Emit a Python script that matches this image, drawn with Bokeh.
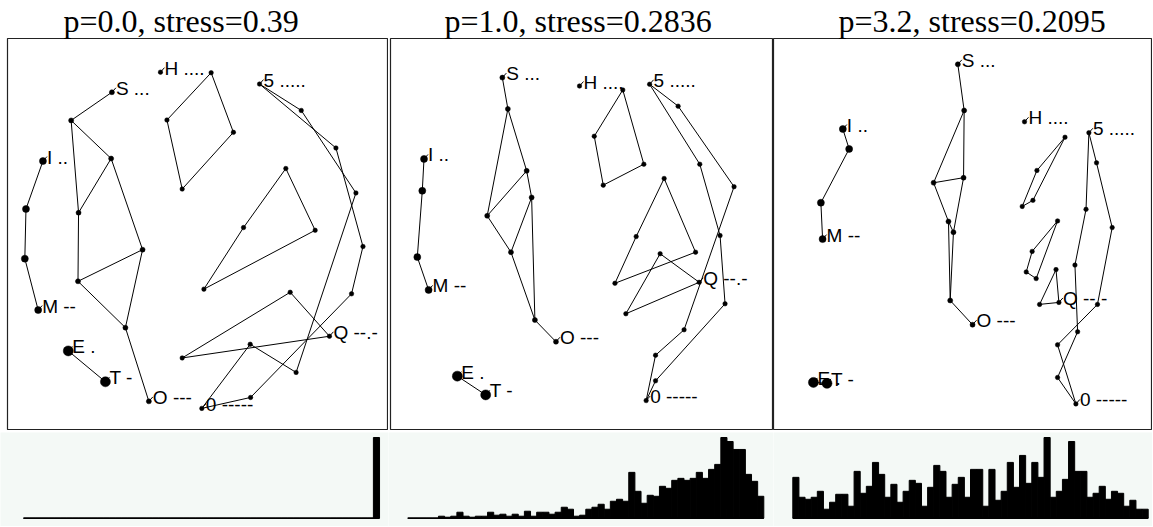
import numpy as np
from bokeh.plotting import figure
from bokeh.models import ColumnDataSource, Range1d
from bokeh.layouts import row, column
from bokeh.embed import file_html
from bokeh.resources import INLINE
from bokeh.core.properties import value

# ---------------- data ----------------
titles = ["p=0.0, stress=0.39", "p=1.0, stress=0.2836", "p=3.2, stress=0.2095"]

# Morse code length of every node (36 symbols)
code_length = [1, 1,
               2, 2, 2, 2,
               3, 3, 3, 3, 3, 3, 3, 3,
               4, 4, 4, 4, 4, 4, 4, 4, 4, 4, 4, 4,
               5, 5, 5, 5, 5, 5, 5, 5, 5, 5]

# links between nodes
edges = [(0, 1),
         (2, 3), (3, 4), (4, 5),
         (6, 7), (7, 8), (7, 9), (8, 9), (8, 10), (9, 11), (10, 11), (10, 12), (11, 12), (12, 13),
         (15, 16), (16, 17), (17, 18), (18, 15),
         (19, 20), (20, 21), (21, 22), (22, 19),
         (23, 24), (24, 25), (25, 23),
         (26, 27), (27, 28), (28, 29), (29, 30), (30, 31), (31, 32), (32, 33), (33, 34), (34, 35), (35, 26)]

label_nodes = [0, 1, 2, 5, 6, 13, 14, 25, 26, 31]
label_text = ["E .", "T -", "I ..", "M --", "S ...", "O ---", "H ....", "Q --.-", "5 .....", "0 -----"]

x_p0 = [-0.681, -0.486, -0.814, -0.903, -0.909, -0.839, -0.452, -0.666, -0.456, -0.627, -0.291, -0.630,
        -0.381, -0.258, -0.197, 0.069, -0.163, -0.083, 0.186, 0.461, 0.239, 0.031, 0.615, 0.484, -0.083,
        0.690, 0.323, 0.542, 0.829, 0.515, 0.274, 0.020, 0.276, 0.806, 0.866, 0.724]
y_p0 = [-0.598, -0.756, 0.373, 0.128, -0.126, -0.389, 0.725, 0.581, 0.386, 0.109, -0.080, -0.242,
        -0.479, -0.856, 0.828, 0.825, 0.583, 0.230, 0.520, 0.335, 0.033, -0.282, 0.019, -0.298, -0.634,
        -0.523, 0.767, 0.632, 0.210, -0.708, -0.564, -0.892, -0.836, -0.306, -0.064, 0.440]

x_p1 = [-0.651, -0.503, -0.825, -0.834, -0.860, -0.801, -0.416, -0.387, -0.289, -0.495, -0.263, -0.371,
        -0.246, -0.136, -0.013, 0.213, 0.064, 0.111, 0.323, 0.429, 0.283, 0.172, 0.593, 0.408, 0.229,
        0.612, 0.353, 0.502, 0.794, 0.533, 0.384, 0.335, 0.384, 0.747, 0.721, 0.615]
y_p1 = [-0.727, -0.823, 0.384, 0.221, -0.118, -0.286, 0.800, 0.640, 0.323, 0.093, 0.187, -0.093,
        -0.440, -0.551, 0.757, 0.737, 0.500, 0.250, 0.357, 0.284, -0.013, -0.252, -0.093, -0.101, -0.408,
        -0.247, 0.766, 0.654, 0.242, -0.490, -0.620, -0.852, -0.751, -0.357, -0.008, 0.357]

x_p3 = [-0.791, -0.720, -0.637, -0.604, -0.752, -0.743, -0.035, -0.002, -0.162, -0.005, -0.084, -0.058,
        -0.075, 0.042, 0.314, 0.526, 0.379, 0.302, 0.358, 0.487, 0.354, 0.323, 0.375, 0.479, 0.393,
        0.494, 0.651, 0.691, 0.773, 0.696, 0.487, 0.583, 0.487, 0.592, 0.578, 0.636]
y_p3 = [-0.759, -0.764, 0.537, 0.435, 0.160, -0.026, 0.868, 0.632, 0.262, 0.288, 0.064, 0.009,
        -0.340, -0.464, 0.574, 0.495, 0.325, 0.141, 0.172, 0.067, -0.089, -0.194, -0.228, -0.182, -0.360,
        -0.350, 0.518, 0.364, 0.033, -0.360, -0.567, -0.869, -0.734, -0.500, -0.159, 0.126]

hist_p0 = [0, 0, 0, 0, 0, 0, 0, 0, 0, 0, 0, 0, 0, 0, 0, 0, 0, 0, 0, 0, 0, 0, 0, 0, 0, 0, 0, 0, 0,
           0, 0, 0, 0, 0, 0, 0, 0, 0, 0, 0, 0, 0, 0, 0, 0, 0, 0, 0, 0, 0, 0, 0, 0, 0, 0, 0, 0, 81]
hist_p1 = [0, 0, 0, 0, 0, 2, 1, 2, 6, 2, 1, 2, 2, 6, 3, 4, 2, 4, 2, 7, 2, 6, 6, 4, 6, 11, 9, 2, 3,
           9, 11, 14, 9, 17, 19, 17, 46, 27, 15, 23, 22, 32, 30, 38, 40, 38, 40, 46, 40, 49, 54, 81,
           77, 69, 69, 44, 37, 22]
hist_p3 = [41, 21, 19, 21, 27, 9, 16, 24, 24, 12, 47, 25, 32, 56, 44, 21, 34, 16, 27, 38, 35, 12, 31,
           53, 47, 21, 34, 41, 21, 49, 49, 12, 49, 18, 27, 56, 31, 63, 35, 56, 41, 81, 21, 27, 39, 77,
           47, 47, 21, 25, 32, 19, 27, 25, 12, 18, 9, 9]

# ---------------- styling / layout ----------------
marker_size = {1: 10, 2: 7, 3: 5, 4: 4.5, 5: 4.5}
fig_widths = [388, 385, 379]
left_pad = [7, 2, 0]
x_ends = [1.0, 1.0, 0.984]
title_offsets = [56, 54, 65]
hist_ranges = [(-3.75, 59.46), (-3.14, 59.58), (-3.15, 58.70)]
SCAT_H = 432
HIST_H = 94
BG = "#f4f9f6"
FRAME = "#222222"
LABEL_FONT = "Liberation Sans"

panels = [(x_p0, y_p0, hist_p0), (x_p1, y_p1, hist_p1), (x_p3, y_p3, hist_p3)]

top_row = []
bottom_row = []
for k, (xs, ys, hv) in enumerate(panels):
    W = fig_widths[k]
    FW = W - left_pad[k]
    p = figure(width=W, height=SCAT_H, title=titles[k],
               x_range=Range1d(-1, x_ends[k]), y_range=Range1d(-1, 1),
               output_backend="svg", toolbar_location=None,
               min_border=0, min_border_left=left_pad[k], min_border_right=0,
               min_border_top=0, min_border_bottom=3)
    p.axis.visible = False
    p.grid.visible = False
    p.background_fill_color = "white"
    p.border_fill_color = "white"
    p.outline_line_color = FRAME
    p.outline_line_width = 1.2
    p.title.text_font = "Liberation Serif"
    p.title.text_font_size = "32px"
    p.title.text_font_style = "normal"
    p.title.align = "left"
    p.title.offset = title_offsets[k]
    p.title.text_color = "black"
    p.title.standoff = 0
    p.title.text_line_height = 0.9

    xs = np.array(xs)
    ys = np.array(ys)
    e = np.array(edges)
    seg = ColumnDataSource(dict(x0=xs[e[:, 0]], y0=ys[e[:, 0]], x1=xs[e[:, 1]], y1=ys[e[:, 1]]))
    p.segment(x0="x0", y0="y0", x1="x1", y1="y1", source=seg, line_color="black", line_width=1)

    # small leader ticks from each labelled dot towards its label
    dxp = (x_ends[k] + 1) / FW
    dyp = 2.0 / 393
    ln = np.array(label_nodes)
    lead = ColumnDataSource(dict(x0=xs[ln], y0=ys[ln], x1=xs[ln] + 4 * dxp, y1=ys[ln] + 4.5 * dyp))
    p.segment(x0="x0", y0="y0", x1="x1", y1="y1", source=lead, line_color="black", line_width=1)

    pts = ColumnDataSource(dict(x=xs, y=ys, s=[marker_size[c] for c in code_length]))
    p.scatter(x="x", y="y", size="s", source=pts, fill_color="black", line_color="black", line_width=0.5)

    lab = ColumnDataSource(dict(x=xs[ln], y=ys[ln], t=label_text))
    p.text(x="x", y="y", text="t", source=lab, x_offset=4, y_offset=-4,
           text_font=value(LABEL_FONT), text_font_size="19px", text_color="black",
           text_align="left", text_baseline="alphabetic")
    top_row.append(p)

    # histogram
    hv = np.array(hv, dtype=float)
    nb = len(hv)
    edges_h = np.arange(nb + 1)
    hmax = hv.max()
    upp = hmax / 80.7
    h = figure(width=W, height=HIST_H,
               x_range=Range1d(*hist_ranges[k]), y_range=Range1d(-8.3 * upp, hmax + 5 * upp),
               output_backend="svg", toolbar_location=None,
               min_border=0, min_border_left=0, min_border_right=0,
               min_border_top=0, min_border_bottom=0)
    h.axis.visible = False
    h.grid.visible = False
    h.outline_line_color = None
    h.background_fill_color = BG
    h.border_fill_color = BG
    h.line(x=[edges_h[0], edges_h[-1]], y=[0, 0], line_color="black", line_width=1.5)
    h.quad(left=edges_h[:-1], right=edges_h[1:], bottom=0, top=hv,
           fill_color="black", line_color="black", line_width=1)
    bottom_row.append(h)

layout = column(row(*top_row, spacing=0), row(*bottom_row, spacing=0), spacing=0)
open("out.html", "w").write(file_html(layout, INLINE))
